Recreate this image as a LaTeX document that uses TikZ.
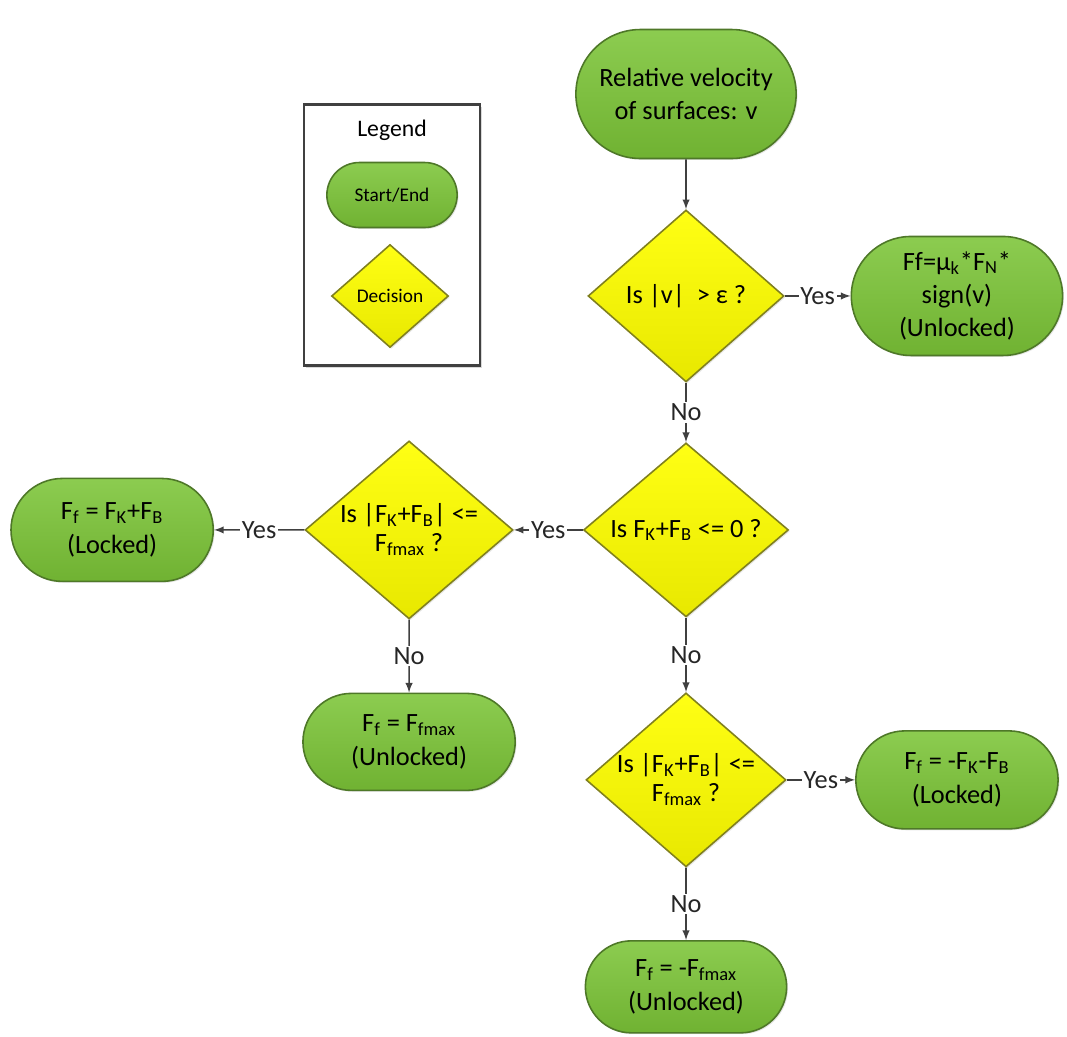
\documentclass[tikz,border=0pt]{standalone}
\usepackage{fontspec}
\setmainfont{Carlito}
\usetikzlibrary{arrows,shapes.geometric,shapes.misc,positioning,shadows}

\definecolor{termtop}{RGB}{140,204,80}
\definecolor{termbot}{RGB}{112,178,50}
\definecolor{termline}{RGB}{78,120,40}
\definecolor{dectop}{RGB}{255,255,20}
\definecolor{decbot}{RGB}{232,232,0}
\definecolor{decline}{RGB}{128,128,30}
\definecolor{arrowgray}{RGB}{64,64,64}

\begin{document}
\begin{tikzpicture}[x=0.02cm,y=-0.02cm,->,>=latex,line width=0.9pt,
                    font=\fontsize{15}{19}\selectfont]
  \tikzstyle{term}=[rounded rectangle,draw=termline,top color=termtop,bottom color=termbot,
                    align=center,minimum width=4.1cm,minimum height=2cm,
                    drop shadow={opacity=0.2,shadow xshift=0.8pt,shadow yshift=-0.8pt}]
  \tikzstyle{decision}=[diamond,draw=decline,top color=dectop,bottom color=decbot,aspect=1.15,
                    inner sep=0pt,align=center,minimum width=4.1cm,minimum height=3.5cm,
                    font=\fontsize{15}{16.5}\selectfont,
                    drop shadow={opacity=0.2,shadow xshift=0.8pt,shadow yshift=-0.8pt}]
  \tikzstyle{lbl}=[fill=white,inner sep=1pt,text=black!85]

  \useasboundingbox (0,0) rectangle (1067,1036);

  % legend
  \node[draw=arrowgray,line width=1.3pt,fill=white,minimum width=3.52cm,minimum height=5.22cm,
        drop shadow={opacity=0.3,shadow xshift=1.2pt,shadow yshift=-1.2pt}] (LB) at (392,235) {};
  \node[font=\fontsize{13.5}{16}\selectfont] (LT) at (392,130) {Legend};
  \node[term,font=\fontsize{11}{13}\selectfont,
        minimum width=2.84cm,minimum height=1.3cm] (LS) at (392,195) {Start/End};
  \node[decision,font=\fontsize{11}{13}\selectfont,
        minimum width=2.34cm,minimum height=2.06cm] (LD) at (390,296) {Decision};

  % flow
  \node[term,minimum width=4.64cm,minimum height=2.58cm] (S) at (686,94) {Relative velocity\\of surfaces: v};
  \node[decision,minimum width=3.92cm,minimum height=3.44cm] (D1) [below of=S,node distance=4.04cm] {Is |v|\ \ > ε ?};
  \node[term,minimum width=4.46cm,minimum height=2.38cm] (U1) [right of=D1,node distance=5.42cm]
        {Ff=μ\textsubscript{k}*F\textsubscript{N}*\\sign(v)\\(Unlocked)};
  \node[decision,minimum width=4.1cm,minimum height=3.48cm] (D2) [below of=D1,node distance=4.68cm]
        {Is F\textsubscript{K}+F\textsubscript{B} <= 0 ?};
  \node[decision,minimum width=4.16cm,minimum height=3.56cm] (D3) [left of=D2,node distance=5.54cm]
        {Is |F\textsubscript{K}+F\textsubscript{B}| <=\\F\textsubscript{fmax} ?};
  \node[term,minimum width=4.28cm,minimum height=2.06cm] (L1) [left of=D3,node distance=5.94cm]
        {F\textsubscript{f} = F\textsubscript{K}+F\textsubscript{B}\\(Locked)};
  \node[term,minimum width=4.48cm,minimum height=1.94cm] (U2) [below of=D3,node distance=4.24cm]
        {F\textsubscript{f} = F\textsubscript{fmax}\\(Unlocked)};
  \node[decision,minimum width=4.0cm,minimum height=3.48cm] (D4) [below of=D2,node distance=5.0cm]
        {Is |F\textsubscript{K}+F\textsubscript{B}| <=\\F\textsubscript{fmax} ?};
  \node[term,minimum width=4.28cm,minimum height=1.96cm] (L2) [right of=D4,node distance=5.42cm]
        {F\textsubscript{f} = -F\textsubscript{K}-F\textsubscript{B}\\(Locked)};
  \node[term,minimum width=4.26cm,minimum height=1.84cm] (U3) [below of=D4,node distance=4.14cm]
        {F\textsubscript{f} = -F\textsubscript{fmax}\\(Unlocked)};

  \draw[arrowgray] (S) -- (D1);
  \draw[arrowgray] (D1) -- node[lbl] {Yes} (U1);
  \draw[arrowgray] (D1) -- node[lbl] {No} (D2);
  \draw[arrowgray] (D2) -- node[lbl] {Yes} (D3);
  \draw[arrowgray] (D3) -- node[lbl] {Yes} (L1);
  \draw[arrowgray] (D3) -- node[lbl] {No} (U2);
  \draw[arrowgray] (D2) -- node[lbl] {No} (D4);
  \draw[arrowgray] (D4) -- node[lbl] {Yes} (L2);
  \draw[arrowgray] (D4) -- node[lbl] {No} (U3);
\end{tikzpicture}
\end{document}
